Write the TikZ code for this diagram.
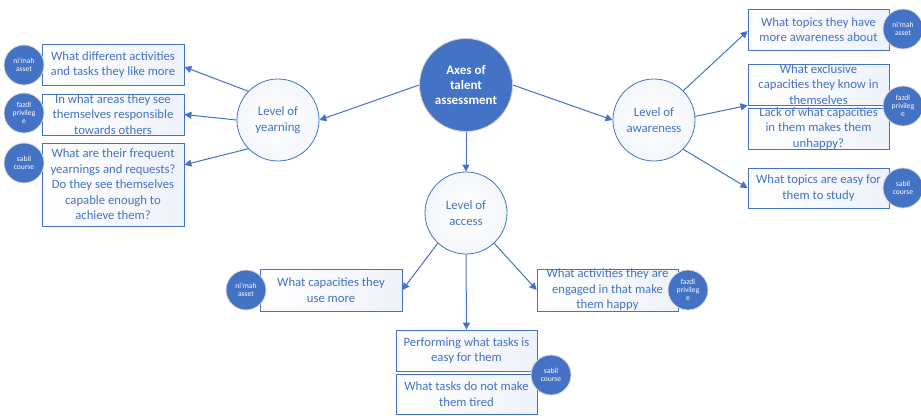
\documentclass[tikz,border=0pt]{standalone}
\usepackage{fontspec}
\setmainfont{Carlito}
\usetikzlibrary{arrows.meta,calc,shadings}
\definecolor{mb}{HTML}{4472C4}
\tikzset{
  boxq/.style={draw=mb, line width=0.8pt, left color=white, right color=mb!9, minimum height=41pt, minimum width=142pt, inner sep=0pt},
  boxtxt/.style={text=mb, align=center, font=\fontsize{12.7}{15.5}\selectfont, inner sep=0pt},
  lvl/.style={circle, draw=mb, line width=0.8pt, inner color=white, outer color=mb!6, minimum size=82pt, inner sep=0pt, text=mb, align=center, font=\fontsize{12.8}{16}\selectfont},
  hub/.style={circle, draw=gray!35, line width=0.8pt, fill=mb, minimum size=93pt, inner sep=0pt, text=white, align=center, font=\fontsize{13}{15}\selectfont\bfseries},
  tag/.style={circle, draw=gray!30, line width=0.8pt, fill=mb, minimum size=40pt, inner sep=0pt, text=white, align=center, font=\fontsize{7.6}{8.3}\selectfont},
  arr/.style={draw=mb, line width=1pt, -{Triangle[length=7pt,width=7pt]}}
}
\begin{document}
\begin{tikzpicture}[x=1pt,y=-1pt]
\useasboundingbox (0,0) rectangle (921,415);
% hub and levels
\node[hub] (ax) at (466,85) {Axes of\\talent\\assessment};
\node[lvl] (yr) at (278,120) {Level of\\yearning};
\node[lvl] (aw) at (654,120) {Level of\\awareness};
\node[lvl] (ac) at (466,213) {Level of\\access};
% left boxes
\node[boxq] (l1) at (113,64.5) {};
\node[boxq] (l2) at (113,114.5) {};
\node[boxq, minimum height=83pt] (l3) at (113,184.5) {};
\node[boxtxt] at (l1.center) {What different activities\\and tasks they like more};
\node[boxtxt] at (l2.center) {In what areas they see\\themselves responsible\\towards others};
\node[boxtxt] at (l3.center) {What are their frequent\\yearnings and requests?\\Do they see themselves\\capable enough to\\achieve them?};
% right boxes
\node[boxq, minimum width=141pt] (r1) at (818.5,29.5) {};
\node[boxq, minimum width=141pt] (r2) at (818.5,84.5) {};
\node[boxq, minimum width=141pt] (r3) at (818.5,128.5) {};
\node[boxq, minimum width=141pt, minimum height=40pt] (r4) at (818.5,188) {};
\node[boxtxt] at (r1.center) {What topics they have\\more awareness about};
\node[boxtxt] at (r2.center) {What exclusive\\capacities they know in\\themselves};
\node[boxtxt] at (r3.center) {Lack of what capacities\\in them makes them\\unhappy?};
\node[boxtxt] at (r4.center) {What topics are easy for\\them to study};
% access boxes
\node[boxq, minimum height=42pt] (a1) at (331,290) {};
\node[boxq, minimum width=141pt, minimum height=42pt] (a2) at (607.5,290) {};
\node[boxq, minimum width=141pt] (a3) at (466.5,350.5) {};
\node[boxq, minimum width=141pt, minimum height=40pt] (a4) at (466.5,394) {};
\node[boxtxt] at (a1.center) {What capacities they\\use more};
\node[boxtxt] at (a2.center) {What activities they are\\engaged in that make\\them happy};
\node[boxtxt] at (a3.center) {Performing what tasks is\\easy for them};
\node[boxtxt] at (a4.center) {What tasks do not make\\them tired};
% tags
\node[tag] (t1) at (24,65) {ni’mah\\asset};
\node[tag] (t2) at (24,113) {fazdl\\privileg\\e};
\node[tag] (t3) at (24,163) {sabil\\course};
\node[tag] (t4) at (903,29) {ni’mah\\asset};
\node[tag] (t5) at (903,106) {fazdl\\privileg\\e};
\node[tag] (t6) at (903,188) {sabil\\course};
\node[tag] (t7) at (246,290) {ni’mah\\asset};
\node[tag] (t8) at (688,290) {fazdl\\privileg\\e};
\node[tag] (t9) at (551,375) {sabil\\course};
% connectors
\draw[arr] (ax.west) -- (yr.east);
\draw[arr] (ax.east) -- (aw.west);
\draw[arr] (ax.south) -- (ac.north);
\draw[arr] (yr.136) -- ($(l1.east)+(0,2.5)$);
\draw[arr] (yr.180) -- (l2.east);
\draw[arr] (yr.224) -- ($(l3.north east)!0.265!(l3.south east)$);
\draw[arr] (aw.45) -- ($(r1.west)+(0,1.5)$);
\draw[arr] (aw.5) -- (r2.south west);
\draw[arr] (aw.-45) -- (r4.west);
\draw[arr] (ac.227) -- (a1.east);
\draw[arr] (ac.313) -- (a2.west);
\draw[arr] (ac.south) -- (a3.north);
\end{tikzpicture}
\end{document}
